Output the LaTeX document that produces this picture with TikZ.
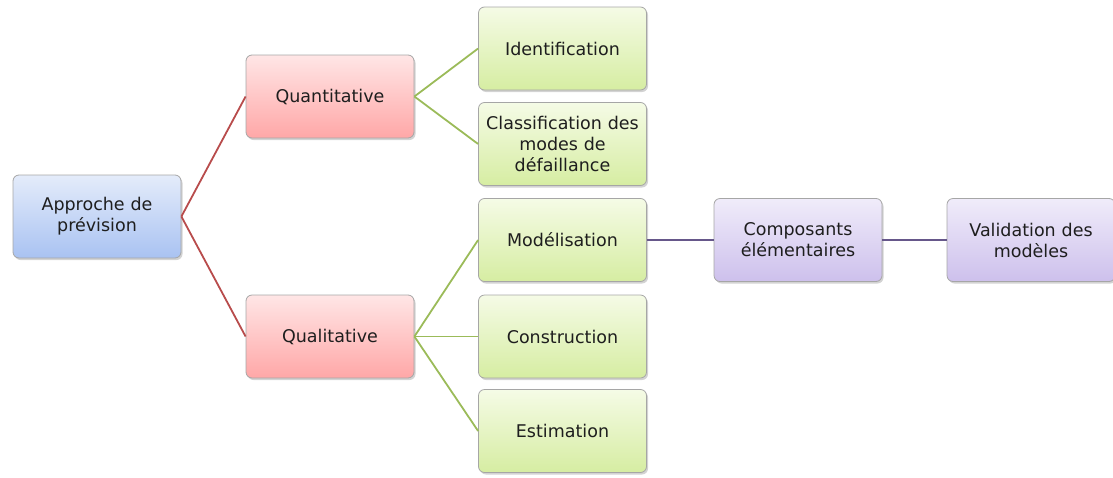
\documentclass[tikz,border=0pt]{standalone}
\usepackage{fontspec}
\setmainfont{DejaVu Sans}
\usetikzlibrary{shadows}
\definecolor{txt}{HTML}{1E1E1E}
\definecolor{redline}{HTML}{B84C4C}
\definecolor{greenline}{HTML}{9BBB59}
\definecolor{purpleline}{HTML}{66578A}
\definecolor{bluetop}{HTML}{E4ECFA}
\definecolor{bluebot}{HTML}{A9C2F2}
\definecolor{redtop}{HTML}{FFE6E6}
\definecolor{redbot}{HTML}{FFA7A7}
\definecolor{greentop}{HTML}{F5FBE6}
\definecolor{greenbot}{HTML}{D6EDA2}
\definecolor{purptop}{HTML}{F0ECFA}
\definecolor{purpbot}{HTML}{CDC0EC}
\tikzset{
  box/.style={draw=black!35, line width=0.8pt, rounded corners=6pt,
    minimum width=168pt, minimum height=83pt, text width=164pt, align=center,
    font=\fontsize{17.5}{21}\selectfont, text=txt, inner sep=1pt,
    drop shadow={shadow xshift=1.5pt, shadow yshift=-2pt, opacity=0.35}},
  bluebox/.style={box, top color=bluetop, bottom color=bluebot},
  redbox/.style={box, top color=redtop, bottom color=redbot},
  greenbox/.style={box, top color=greentop, bottom color=greenbot},
  purplebox/.style={box, top color=purptop, bottom color=purpbot},
  redlink/.style={draw=redline, line width=1.8pt},
  greenlink/.style={draw=greenline, line width=1.8pt},
  purplelink/.style={draw=purpleline, line width=1.8pt}
}
\begin{document}
\begin{tikzpicture}[x=1pt,y=-1pt]
\useasboundingbox (0,0) rectangle (1113,477);
\node[bluebox] (app) at (97,216.5) {Approche de\\prévision};
\node[redbox] (quant) at (330,96.5) {Quantitative};
\node[redbox] (qual) at (330,336.5) {Qualitative};
\node[greenbox] (ident) at (562.5,48.5) {Identification};
\node[greenbox] (class) at (562.5,144) {Classification des\\modes de\\défaillance};
\node[greenbox] (model) at (562.5,240) {Modélisation};
\node[greenbox] (constr) at (562.5,336.5) {Construction};
\node[greenbox] (estim) at (562.5,431) {Estimation};
\node[purplebox] (comp) at (798,240) {Composants\\élémentaires};
\node[purplebox] (valid) at (1031,240) {Validation des\\modèles};
\draw[redlink] (app.east) -- (quant.west);
\draw[redlink] (app.east) -- (qual.west);
\draw[greenlink] (quant.east) -- (ident.west);
\draw[greenlink] (quant.east) -- (class.west);
\draw[greenlink] (qual.east) -- (model.west);
\draw[greenlink] (qual.east) -- (constr.west);
\draw[greenlink] (qual.east) -- (estim.west);
\draw[purplelink] (model.east) -- (comp.west);
\draw[purplelink] (comp.east) -- (valid.west);
\end{tikzpicture}
\end{document}
